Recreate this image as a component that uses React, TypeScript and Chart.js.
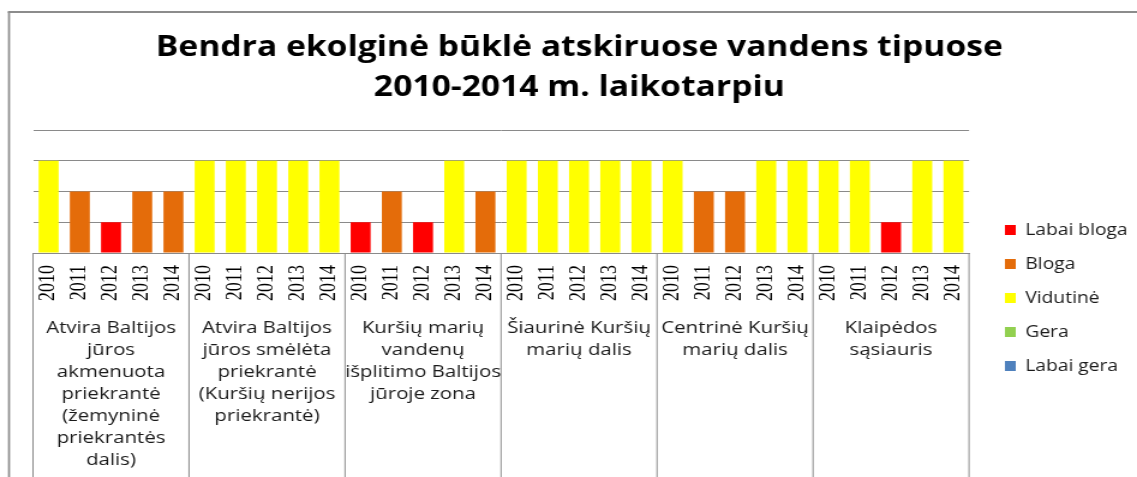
import React, { useEffect, useRef } from 'react';
import { Chart, registerables } from 'chart.js';

Chart.register(...registerables);

// ---- data ----
const titleLines = ['Bendra ekolginė būklė atskiruose vandens tipuose', '2010-2014 m. laikotarpiu'];
const years = ['2010', '2011', '2012', '2013', '2014'];
const groupLabels: string[][] = [
  ['Atvira Baltijos', 'jūros', 'akmenuota', 'priekrantė', '(žemyninė', 'priekrantės', 'dalis)'],
  ['Atvira Baltijos', 'jūros smėlėta', 'priekrantė', '(Kuršių nerijos', 'priekrantė)'],
  ['Kuršių marių', 'vandenų', 'išplitimo Baltijos', 'jūroje zona'],
  ['Šiaurinė Kuršių', 'marių dalis'],
  ['Centrinė Kuršių', 'marių dalis'],
  ['Klaipėdos', 'sąsiauris'],
];
const statusNames = ['Labai bloga', 'Bloga', 'Vidutinė', 'Gera', 'Labai gera'];
const statusColors = ['#FF0000', '#E46C0A', '#FFFF00', '#92D050', '#4F81BD'];
// status level: 1 = Labai bloga ... 5 = Labai gera
const atviraAkmenuota = [3, 2, 1, 2, 2];
const atviraSmeleta = [3, 3, 3, 3, 3];
const kursiuIsplitimo = [1, 2, 1, 3, 2];
const siaurineKursiu = [3, 3, 3, 3, 3];
const centrineKursiu = [3, 2, 2, 3, 3];
const klaipedosSasiauris = [3, 3, 1, 3, 3];
const yMin = 0;
const yMax = 4;

const CSS_W = 1137;
const CSS_H = 477;
const CANVAS_W = 947; // horizontally stretched to CSS_W
const CANVAS_H = 477;

export default function App() {
  const ref = useRef<HTMLCanvasElement | null>(null);

  useEffect(() => {
    const canvas = ref.current;
    if (!canvas) return;
    const groupValues = [atviraAkmenuota, atviraSmeleta, kursiuIsplitimo, siaurineKursiu, centrineKursiu, klaipedosSasiauris];
    const allValues: number[] = ([] as number[]).concat(...groupValues);
    const labels: string[] = [];
    groupValues.forEach(() => years.forEach((y) => labels.push(y)));

    const datasets = statusNames.map((name, k) => ({
      label: name,
      data: allValues.map((v) => (v === k + 1 ? v : null)),
      backgroundColor: statusColors[k],
      borderWidth: 0,
      barPercentage: 0.64,
      categoryPercentage: 1,
    }));

    const framePlugin = {
      id: 'frame',
      beforeDraw(chart: any) {
        const ctx = chart.ctx;
        ctx.save();
        ctx.strokeStyle = '#8c8c8c';
        ctx.lineWidth = 1.7;
        ctx.beginPath();
        ctx.moveTo(7.5, CANVAS_H + 5);
        ctx.lineTo(7.5, 12);
        ctx.stroke();
        ctx.lineWidth = 2;
        ctx.beginPath();
        ctx.moveTo(6.5, 12);
        ctx.lineTo(CANVAS_W + 5, 12);
        ctx.stroke();
        ctx.restore();
      },
    };

    const groupAxisPlugin = {
      id: 'groupAxis',
      afterDraw(chart: any) {
        const ctx = chart.ctx;
        const xs = chart.scales.x;
        const half = (xs.getPixelForValue(1) - xs.getPixelForValue(0)) / 2;
        const top = chart.chartArea.bottom;
        ctx.save();
        ctx.strokeStyle = '#8a8a8a';
        ctx.lineWidth = 1;
        for (let g = 0; g <= groupValues.length; g++) {
          const x = g < groupValues.length
            ? xs.getPixelForValue(g * years.length) - half
            : xs.getPixelForValue(g * years.length - 1) + half;
          ctx.beginPath();
          ctx.moveTo(x, top);
          ctx.lineTo(x, CANVAS_H + 2);
          ctx.stroke();
        }
        ctx.fillStyle = '#1a1a1a';
        ctx.font = '17px "Open Sans"';
        ctx.textAlign = 'center';
        ctx.textBaseline = 'middle';
        groupLabels.forEach((lines, g) => {
          const cx = (xs.getPixelForValue(g * years.length) + xs.getPixelForValue(g * years.length + years.length - 1)) / 2;
          lines.forEach((line, i) => {
            ctx.fillText(line, cx, 328 + 22 * i);
          });
        });
        ctx.restore();
      },
    };

    const legendPlace = {
      id: 'legendPlace',
      afterLayout(chart: any) {
        const lg = chart.legend;
        if (!lg) return;
        lg.maxHeight = 300;
        lg.maxWidth = 200;
        lg.fit();
        lg.left = 819;
        lg.top = 204;
        lg.right = lg.left + lg.width;
        lg.bottom = lg.top + lg.height;
      },
    };

    const chart = new Chart(canvas, {
      type: 'bar',
      data: { labels, datasets },
      options: {
        animation: false,
        responsive: false,
        devicePixelRatio: 1,
        layout: { padding: { left: 18, right: 0, top: 12, bottom: 0 } },
        plugins: {
          title: {
            display: true,
            text: titleLines,
            color: '#000000',
            font: { family: '"Open Sans"', size: 28, weight: 'bold', lineHeight: 40 / 28 },
            padding: { top: 16, bottom: 22 },
          },
          legend: {
            display: true,
            position: 'chartArea',
            align: 'start',
            labels: {
              boxWidth: 9,
              boxHeight: 10,
              padding: 18,
              color: '#1a1a1a',
              font: { family: '"Open Sans"', size: 16 },
            },
          },
          tooltip: { enabled: false },
        },
        scales: {
          x: {
            stacked: true,
            grid: { display: false, drawTicks: false },
            border: { display: true, color: '#8a8a8a', width: 1 },
            ticks: {
              autoSkip: false,
              maxRotation: 90,
              minRotation: 90,
              padding: 12,
              color: '#000000',
              font: { family: '"Liberation Serif"', size: 18 },
            },
            afterFit: (s: any) => { s.height = CANVAS_H - 253; },
          },
          y: {
            stacked: true,
            min: yMin,
            max: yMax,
            ticks: { display: false, stepSize: 1 },
            grid: { color: '#8a8a8a', drawTicks: false, lineWidth: 1 },
            border: { display: false },
            afterFit: (s: any) => { s.width = 9.5; },
          },
          y2: {
            type: 'linear',
            position: 'right',
            display: true,
            grid: { display: false, drawTicks: false },
            ticks: { display: false },
            border: { display: false },
            afterFit: (s: any) => { s.width = 139.9; },
          },
        },
      } as any,
      plugins: [framePlugin, groupAxisPlugin, legendPlace],
    });
    return () => chart.destroy();
  }, []);

  return (
    <div style={{ position: 'fixed', left: 0, top: 0, width: CSS_W, height: CSS_H, background: '#ffffff' }}>
      <canvas
        ref={ref}
        width={CANVAS_W}
        height={CANVAS_H}
        style={{ width: CSS_W + 'px', height: CSS_H + 'px', display: 'block' }}
      />
    </div>
  );
}
